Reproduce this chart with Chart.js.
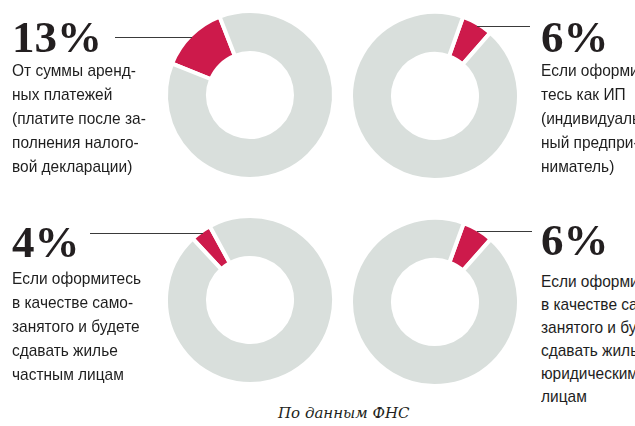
<!DOCTYPE html>
<html><head><meta charset="utf-8">
<script src="https://cdn.jsdelivr.net/npm/chart.js@4/dist/chart.umd.min.js"></script>
<style>
html,body{margin:0;padding:0;width:635px;height:426px;overflow:hidden;background:#fff;}
.c{position:absolute;}
.pct{position:absolute;font-family:"Liberation Serif",serif;font-weight:bold;font-size:45px;line-height:45px;color:#231f20;white-space:nowrap;}
.txt{position:absolute;font-family:"Liberation Sans",sans-serif;font-size:17px;line-height:24px;color:#1e1e1e;white-space:nowrap;transform:scaleX(0.91);transform-origin:0 0;}
.ln{position:absolute;height:0;border-top:1.5px solid #3a3a3a;}
.src{position:absolute;font-family:"DejaVu Serif",serif;font-style:italic;font-size:15px;color:#231f20;white-space:nowrap;}
</style></head>
<body>
<script>
// ---- data ----
const categories = ['13%', '6%', '4%', '6%'];
const shares = [13, 6, 4, 6];
const others = [87, 94, 96, 94];
const captions = [
  ['От суммы аренд-', 'ных платежей', '(платите после за-', 'полнения налого-', 'вой декларации)'],
  ['Если оформи-', 'тесь как ИП', '(индивидуаль-', 'ный предпри-', 'ниматель)'],
  ['Если оформитесь', 'в качестве само-', 'занятого и будете', 'сдавать жилье', 'частным лицам'],
  ['Если оформи-', 'в качестве само-', 'занятого и бу-', 'сдавать жилье', 'юридическим', 'лицам']
];
const sourceNote = 'По данным ФНС';

// ---- layout ----
const centers = [[250, 95], [434.5, 95.5], [250, 300], [434.5, 301.5]];
const rotations = [-68, 19.5, -43, 20];
const pctPos = [[12, 15], [541, 15], [12, 220], [541, 218]];
const txtPos = [[12, 59], [541, 59], [12, 267], [541, 270]];
const lineHeights = [24, 24, 24, 23];
const lines = [[115, 37, 192], [477, 26, 530], [90, 233, 203], [477, 231, 532]];

const RED = '#cd1a4b', GREY = '#d9dfdc';
const S = 180;
for (let i = 0; i < 4; i++) {
  const cv = document.createElement('canvas');
  cv.width = S; cv.height = S; cv.className = 'c';
  cv.style.left = (centers[i][0] - S/2) + 'px';
  cv.style.top = (centers[i][1] - S/2) + 'px';
  cv.style.width = S + 'px'; cv.style.height = S + 'px';
  document.body.appendChild(cv);
  new Chart(cv, {
    type: 'doughnut',
    data: { labels: ['share', 'rest'], datasets: [{ data: [shares[i], others[i]], backgroundColor: [RED, GREY], borderColor: '#ffffff', borderWidth: 4, hoverOffset: 0 }] },
    options: {
      responsive: false, animation: false, events: [],
      radius: 84, cutout: 44, rotation: rotations[i],
      layout: { padding: 0 },
      plugins: { legend: { display: false }, tooltip: { enabled: false } }
    }
  });

  const l = document.createElement('div'); l.className = 'ln';
  l.style.left = lines[i][0] + 'px'; l.style.top = lines[i][1] + 'px'; l.style.width = (lines[i][2] - lines[i][0]) + 'px';
  document.body.appendChild(l);

  const p = document.createElement('div'); p.className = 'pct';
  p.textContent = categories[i];
  p.style.left = pctPos[i][0] + 'px'; p.style.top = pctPos[i][1] + 'px';
  document.body.appendChild(p);

  const t = document.createElement('div'); t.className = 'txt';
  t.innerHTML = captions[i].join('<br>');
  t.style.left = txtPos[i][0] + 'px'; t.style.top = txtPos[i][1] + 'px';
  t.style.lineHeight = lineHeights[i] + 'px';
  document.body.appendChild(t);
}
const s = document.createElement('div'); s.className = 'src';
s.textContent = sourceNote; s.style.left = '278px'; s.style.top = '404px';
document.body.appendChild(s);
</script>
</body></html>
